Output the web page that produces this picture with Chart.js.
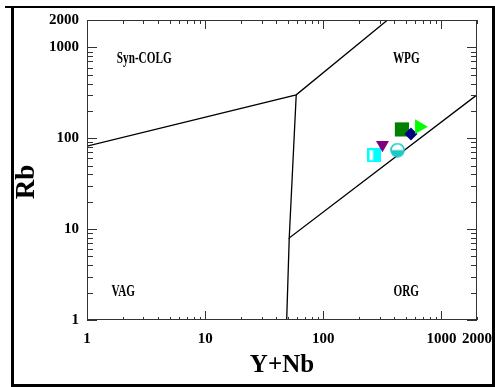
<!DOCTYPE html>
<html>
<head>
<meta charset="utf-8">
<script src="https://cdn.jsdelivr.net/npm/chart.js@4"></script>
<style>
  html, body { margin: 0; padding: 0; background: #fff; }
  #wrap { width: 495px; height: 387px; }
</style>
</head>
<body>
<div id="wrap"><canvas id="c"></canvas></div>
<script>
// ── data ──
const SAMPLE_YNB = [271, 317, 425, 463, 552, 650];
const SAMPLE_RB  = [65, 85, 74, 125, 111, 134];

// field boundaries (Pearce et al. style)
const LINE_A_X = [1, 59, 350];      const LINE_A_Y = [82, 300, 2000];
const LINE_B_X = [59, 51.5, 2000];  const LINE_B_Y = [300, 8, 300];
const LINE_C_X = [51.5, 49];        const LINE_C_Y = [8, 1];

const REGION_NAMES = ["Syn-COLG", "WPG", "VAG", "ORG"];
const REGION_X     = [3.05, 504, 2.03, 504];
const REGION_Y     = [754, 754, 2.03, 2.03];

const TICK_VALUES = [1, 10, 100, 1000, 2000];

const SERIF = '"Liberation Serif", "Times New Roman", serif';

// ── marker images for the half-filled symbols ──
function halfSquare(size, color) {
  const c = document.createElement("canvas");
  c.width = c.height = size;
  const g = c.getContext("2d");
  g.fillStyle = "#fff";
  g.fillRect(0, 0, size, size);
  g.fillStyle = color;
  g.fillRect(size * 0.4, 0, size * 0.6, size);
  g.strokeStyle = color;
  g.lineWidth = 2;
  g.strokeRect(1, 1, size - 2, size - 2);
  return c;
}

function halfCircle(size, color) {
  const c = document.createElement("canvas");
  c.width = c.height = size;
  const g = c.getContext("2d");
  const r = size / 2 - 1;
  g.fillStyle = "#fff";
  g.beginPath(); g.arc(size / 2, size / 2, r, 0, Math.PI * 2); g.fill();
  g.fillStyle = color;
  g.beginPath(); g.arc(size / 2, size / 2, r, 0, Math.PI); g.closePath(); g.fill();
  g.strokeStyle = color;
  g.lineWidth = 1.6;
  g.beginPath(); g.arc(size / 2, size / 2, r, 0, Math.PI * 2); g.stroke();
  return c;
}

const pts = (xs, ys) => xs.map((x, i) => ({ x, y: ys[i] }));

const lineStyle = {
  showLine: true, pointRadius: 0, borderColor: "#000", borderWidth: 1.3,
  fill: false, order: 2
};

// ── frame, inner ticks, region labels, Rb title ──
Chart.register({
  id: "diagramDecor",
  afterDraw(chart) {
    const { ctx, chartArea: a } = chart;
    const xs = chart.scales.x, ys = chart.scales.y;
    ctx.save();

    // plot box
    ctx.strokeStyle = "#333";
    ctx.lineWidth = 1;
    ctx.strokeRect(a.left + 0.5, a.top + 0.5, a.right - a.left - 1, a.bottom - a.top - 1);

    // inward ticks on all four sides
    ctx.beginPath();
    for (const d of [1, 10, 100, 1000]) {
      for (let m = 1; m <= 9; m++) {
        const v = d * m;
        if (v > 2000) break;
        const major = m === 1;
        const px = Math.round(xs.getPixelForValue(v)) + 0.5;
        const py = Math.round(ys.getPixelForValue(v)) + 0.5;
        ctx.moveTo(px, a.bottom); ctx.lineTo(px, a.bottom - (major ? 9 : 3));
        ctx.moveTo(px, a.top);    ctx.lineTo(px, a.top + (major ? 9 : 4));
        ctx.moveTo(a.left, py);   ctx.lineTo(a.left + (major ? 10 : 6), py);
        ctx.moveTo(a.right, py);  ctx.lineTo(a.right - (major ? 10 : 6), py);
      }
    }
    ctx.stroke();

    // region names, narrow bold serif
    ctx.fillStyle = "#000";
    ctx.font = "bold 16px " + SERIF;
    ctx.textAlign = "center";
    ctx.textBaseline = "middle";
    REGION_NAMES.forEach((name, i) => {
      const x = xs.getPixelForValue(REGION_X[i]);
      const y = ys.getPixelForValue(REGION_Y[i]);
      ctx.save();
      ctx.translate(x, y);
      ctx.scale(0.7, 1);
      ctx.fillText(name, 0, 0);
      ctx.restore();
    });

    // y-axis title
    ctx.save();
    ctx.font = "bold 27px " + SERIF;
    ctx.translate(27, 182);
    ctx.rotate(-Math.PI / 2);
    ctx.fillText("Rb", 0, 0);
    ctx.restore();

    // outer black frame
    ctx.fillStyle = "#000";
    ctx.fillRect(11, 6, 3, 381);
    ctx.fillRect(5, 6, 490, 2);
    ctx.fillRect(492, 6, 3, 381);
    ctx.fillRect(11, 384, 484, 3);

    ctx.restore();
  }
});

const tickFont = { family: SERIF, size: 15, weight: "bold" };

new Chart(document.getElementById("c"), {
  type: "scatter",
  data: {
    datasets: [
      { data: pts(LINE_A_X, LINE_A_Y), ...lineStyle },
      { data: pts(LINE_B_X, LINE_B_Y), ...lineStyle },
      { data: pts(LINE_C_X, LINE_C_Y), ...lineStyle },
      {
        data: pts(SAMPLE_YNB, SAMPLE_RB),
        order: 0,
        pointStyle: [halfSquare(14, "#00ffff"), "triangle", halfCircle(15, "#1ec8c8"), "rect", "rectRot", "triangle"],
        rotation: [0, 180, 0, 0, 0, 90],
        pointRadius: [7, 7.5, 7.5, 10, 6.5, 8.5],
        backgroundColor: ["#00ffff", "#800080", "#1ec8c8", "#008000", "#000080", "#00ff00"],
        borderColor: ["#00ffff", "#800080", "#1ec8c8", "#008000", "#000080", "#00ff00"],
        borderWidth: 0
      }
    ]
  },
  options: {
    animation: false, responsive: true, maintainAspectRatio: false,
    layout: { padding: { top: 20, right: 18, left: 0, bottom: 0 } },
    plugins: { legend: { display: false }, tooltip: { enabled: false } },
    scales: {
      x: {
        type: "logarithmic", min: 1, max: 2000,
        afterBuildTicks: s => { s.ticks = TICK_VALUES.map(v => ({ value: v })); },
        afterFit: s => { s.height = 67; s.paddingLeft = 0; s.paddingRight = 0; },
        grid: { display: false, drawTicks: false },
        border: { display: false },
        ticks: { color: "#000", font: tickFont, padding: 10, autoSkip: false, maxRotation: 0,
                 callback: v => String(v) },
        title: { display: true, text: "Y+Nb", color: "#000",
                 font: { family: SERIF, size: 25, weight: "bold" }, padding: { top: 0, bottom: 6 } }
      },
      y: {
        type: "logarithmic", min: 1, max: 2000,
        afterBuildTicks: s => { s.ticks = TICK_VALUES.map(v => ({ value: v })); },
        afterFit: s => { s.width = 87; s.paddingTop = 0; s.paddingBottom = 0; },
        grid: { display: false, drawTicks: false },
        border: { display: false },
        ticks: { color: "#000", font: tickFont, padding: 8, autoSkip: false,
                 callback: v => String(v) }
      }
    }
  }
});
</script>
</body>
</html>
